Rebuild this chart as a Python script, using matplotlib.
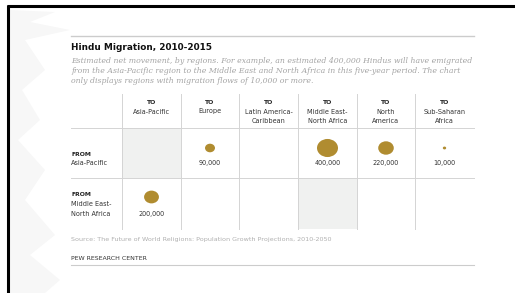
import matplotlib.pyplot as plt
from matplotlib.patches import Ellipse, Rectangle, Polygon
import numpy as np

# data
dest_regions = ['Asia-Pacific', 'Europe', 'Latin America-\nCaribbean',
                'Middle East-\nNorth Africa', 'North\nAmerica', 'Sub-Saharan\nAfrica']
origin_regions = ['Asia-Pacific', 'Middle East-\nNorth Africa']
flows_asia_pacific = [None, 90000, None, 400000, 220000, 10000]
flows_mena = [200000, None, None, None, None, None]
flow_labels_asia_pacific = ['', '90,000', '', '400,000', '220,000', '10,000']
flow_labels_mena = ['200,000', '', '', '', '', '']
same_region = [0, 3]  # shaded cell column for each origin row

W, H = 515, 293
fig = plt.figure(figsize=(W / 100, H / 100), dpi=100)
ax = fig.add_axes([0, 0, 1, 1])
ax.set_xlim(0, W)
ax.set_ylim(H, 0)
ax.axis('off')

# frame and faint brush stroke on the left
ax.plot([7, 515], [5.5, 5.5], color='black', lw=2.2, solid_capstyle='butt')
ax.plot([7.5, 7.5], [5, 293], color='black', lw=2.2, solid_capstyle='butt')
brush = [(9, 10), (55, 12), (30, 22), (70, 30), (25, 40), (45, 70), (22, 90), (40, 120),
         (18, 140), (45, 170), (25, 200), (55, 235), (30, 255), (60, 280), (45, 293), (9, 293)]
ax.add_patch(Polygon(brush, closed=True, color='#f7f7f7', lw=0, zorder=0))

left, right = 71, 474
text_col = '#333333'
line_col = '#d4d4d4'

ax.plot([left, right], [36, 36], color='#cccccc', lw=1.0)
ax.text(left, 48, 'Hindu Migration, 2010-2015', fontsize=6.4, fontweight='bold',
        color='#111111', va='center', ha='left')
subtitle = ['Estimated net movement, by regions. For example, an estimated 400,000 Hindus will have emigrated',
            'from the Asia-Pacific region to the Middle East and North Africa in this five-year period. The chart',
            'only displays regions with migration flows of 10,000 or more.']
for i, s in enumerate(subtitle):
    ax.text(left, 61 + i * 9.8, s, fontsize=5.6, style='italic', family='DejaVu Serif',
            color='#a4a4a4', va='center', ha='left')

# table grid
col_edges = [left, 122, 181, 239, 298, 357, 415, right]
row_edges = [94, 128, 178, 229]
for x in col_edges[1:-1]:
    ax.plot([x, x], [row_edges[0], row_edges[-1]], color=line_col, lw=0.7)
for y in row_edges[1:-1]:
    ax.plot([left, right], [y, y], color=line_col, lw=0.7)

for r, c in enumerate(same_region):
    ax.add_patch(Rectangle((col_edges[c + 1], row_edges[r + 1]),
                           col_edges[c + 2] - col_edges[c + 1], row_edges[r + 2] - row_edges[r + 1],
                           color='#f0f1f0', lw=0, zorder=0.5))

# column headers
for j, name in enumerate(dest_regions):
    cx = (col_edges[j + 1] + col_edges[j + 2]) / 2
    ax.text(cx, 103, 'TO', fontsize=4.4, fontweight='bold', color='#222222', ha='center', va='center')
    ax.text(cx, 108.5, name, fontsize=4.7, color=text_col, ha='center', va='top', linespacing=1.75)

# row labels
row_label_y = [154, 195]
for i, name in enumerate(origin_regions):
    ax.text(left, row_label_y[i], 'FROM', fontsize=4.4, fontweight='bold', color='#222222',
            ha='left', va='center')
    ax.text(left, row_label_y[i] + 6, name, fontsize=4.7, color=text_col, ha='left', va='top',
            linespacing=1.75)

# bubbles
scale = 21 / np.sqrt(400000)
rows = [(flows_asia_pacific, flow_labels_asia_pacific, 148, 163),
        (flows_mena, flow_labels_mena, 197, 214)]
for flows, labels, cy, ly in rows:
    for j, v in enumerate(flows):
        if v is None:
            continue
        cx = (col_edges[j + 1] + col_edges[j + 2]) / 2
        w = scale * np.sqrt(v)
        ax.add_patch(Ellipse((cx, cy), w, w * 0.86, color='#b08c30', lw=0, zorder=2))
        ax.text(cx, ly, labels[j], fontsize=4.7, color=text_col, ha='center', va='center')

ax.text(left, 240, 'Source: The Future of World Religions: Population Growth Projections, 2010-2050',
        fontsize=4.55, color='#b0b0b0', ha='left', va='center')
ax.text(left, 258, 'PEW RESEARCH CENTER', fontsize=4.5, color='#333333', ha='left', va='center')
ax.plot([left, right], [265, 265], color='#cccccc', lw=0.8)

fig.savefig('out.png', dpi=100)
